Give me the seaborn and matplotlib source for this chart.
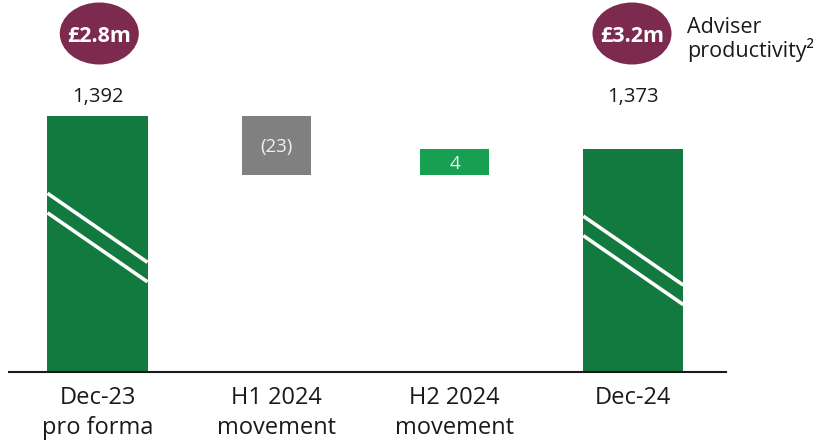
import numpy as np
import pandas as pd
import matplotlib
matplotlib.use("Agg")
import matplotlib.pyplot as plt
import matplotlib.transforms as mtransforms
from matplotlib.patches import Ellipse
from matplotlib.lines import Line2D
import seaborn as sns

# ---- data -------------------------------------------------------------
stages = ["Dec-23\npro forma", "H1 2024\nmovement", "H2 2024\nmovement", "Dec-24"]
kinds = ["total", "decrease", "increase", "total"]
opening = 1392
movements = [-23, 4]
closing = 1373
value_labels = ["1,392", "(23)", "4", "1,373"]
productivity = ["£2.8m", None, None, "£3.2m"]

h1_end = opening + movements[0]
h2_end = h1_end + movements[1]
lows = [0, h1_end, h1_end, 0]
highs = [opening, opening, h2_end, closing]

df = pd.DataFrame({"stage": stages, "kind": kinds, "low": lows, "high": highs})

# ---- style ------------------------------------------------------------
sns.set_theme(style="white")
plt.rcParams["font.family"] = ["Open Sans", "DejaVu Sans"]

GREEN = "#127A3E"
GREY = "#808080"
LIGHT_GREEN = "#17A052"
PLUM = "#7C2A4E"
INK = "#1A1A1A"
kind_colors = {"total": GREEN, "decrease": GREY, "increase": LIGHT_GREEN}
bar_widths = {"total": 0.56, "decrease": 0.386, "increase": 0.386}

W, H = 819, 441
fig = plt.figure(figsize=(W / 100, H / 100), dpi=100)
fig.patch.set_facecolor("white")
ax = fig.add_axes([9 / W, 1 - 372.3 / H, 717 / W, 372.3 / H])

sns.barplot(
    data=df, x="stage", y="high", hue="stage",
    palette=[kind_colors[k] for k in kinds], legend=False,
    saturation=1, width=bar_widths["total"], linewidth=0, ax=ax,
)

# floating bars: each spans its low..high range
for patch, row in zip(ax.patches, df.itertuples()):
    w = bar_widths[row.kind]
    cx = patch.get_x() + patch.get_width() / 2
    patch.set_x(cx - w / 2)
    patch.set_width(w)
    patch.set_y(row.low)
    patch.set_height(row.high - row.low)

# broken value axis: compressed below the movement range
axis_vals = np.array([0, h1_end, h2_end, opening, 1460], dtype=float)
axis_pos = np.array([0.0, 0.530, 0.600, 0.688, 1.0])


def fwd(v):
    v = np.asarray(v, dtype=float)
    out = np.interp(v, axis_vals, axis_pos)
    lo_slope = (axis_pos[1] - axis_pos[0]) / (axis_vals[1] - axis_vals[0])
    hi_slope = (axis_pos[-1] - axis_pos[-2]) / (axis_vals[-1] - axis_vals[-2])
    out = np.where(v < axis_vals[0], axis_pos[0] + (v - axis_vals[0]) * lo_slope, out)
    out = np.where(v > axis_vals[-1], axis_pos[-1] + (v - axis_vals[-1]) * hi_slope, out)
    return out


def inv(p):
    p = np.asarray(p, dtype=float)
    out = np.interp(p, axis_pos, axis_vals)
    lo_slope = (axis_vals[1] - axis_vals[0]) / (axis_pos[1] - axis_pos[0])
    hi_slope = (axis_vals[-1] - axis_vals[-2]) / (axis_pos[-1] - axis_pos[-2])
    out = np.where(p < axis_pos[0], axis_vals[0] + (p - axis_pos[0]) * lo_slope, out)
    out = np.where(p > axis_pos[-1], axis_vals[-1] + (p - axis_pos[-1]) * hi_slope, out)
    return out


ax.set_yscale("function", functions=(fwd, inv))
ax.set_ylim(0, 1460)
ax.set_xlim(-0.4955, 3.519)

# axes cosmetics
ax.set_xlabel("")
ax.set_ylabel("")
ax.set_yticks([])
for side in ("left", "right", "top"):
    ax.spines[side].set_visible(False)
ax.spines["bottom"].set_color(INK)
ax.spines["bottom"].set_linewidth(1.5)
ax.tick_params(axis="x", length=0, pad=10, labelsize=17, labelcolor=INK)
for t in ax.get_xticklabels():
    t.set_linespacing(1.33)
ax.set_facecolor("white")

# x in data, y in figure pixels (from top)
xfig = mtransforms.blended_transform_factory(ax.transData, fig.transFigure)


def fy(px_from_top):
    return 1 - px_from_top / H


data_to_fig = ax.transData + fig.transFigure.inverted()
badge_shift = {0: 1.8, 3: -1.3}
break_level = {0: 0.526, 3: 0.501}

for i, row in enumerate(df.itertuples()):
    patch = ax.patches[i]
    bb = patch.get_window_extent()
    if row.kind == "total":
        # headline value above the bar
        ax.text(i, fy(102), value_labels[i], transform=xfig, ha="center",
                va="baseline", fontsize=14.5, color=INK)
        # break marks: two white parallel diagonals across the bar
        xc = (bb.x0 + bb.x1) / 2
        ym = bb.y0 + break_level[i] * (bb.y1 - bb.y0)
        slope = -0.69
        for off in (9.75, -9.75):
            xs = [bb.x0, bb.x1]
            ys = [ym + off + slope * (x - xc) for x in xs]
            ln = Line2D(xs, ys, transform=mtransforms.IdentityTransform(),
                        color="white", lw=2.6, solid_capstyle="butt")
            ln.set_clip_on(False)
            fig.add_artist(ln)
    else:
        # movement value inside the floating bar
        cy = (bb.y0 + bb.y1) / 2
        ax.text((bb.x0 + bb.x1) / 2, cy - 6.6, value_labels[i],
                transform=mtransforms.IdentityTransform(), ha="center",
                va="baseline", fontsize=13.5, color="#F0F0F0")

    if productivity[i]:
        cxf = data_to_fig.transform((i, 0))[0] + badge_shift[i] / W
        ell = Ellipse((cxf, fy(33.5)), 79 / W, 62 / H,
                      transform=fig.transFigure, facecolor=PLUM, edgecolor="none")
        fig.add_artist(ell)
        fig.text(cxf, fy(42.3), productivity[i], ha="center", va="baseline",
                 fontsize=15.5, fontweight="bold", color="white")

# note explaining the plum badges
fig.text(687 / W, fy(33.3), "Adviser", ha="left", va="baseline",
         fontsize=15.5, color=INK)
fig.text(687 / W, fy(56.7), "productivity\u00b2", ha="left", va="baseline",
         fontsize=15.5, color=INK)

fig.savefig("out.png", dpi=100, facecolor="white")
